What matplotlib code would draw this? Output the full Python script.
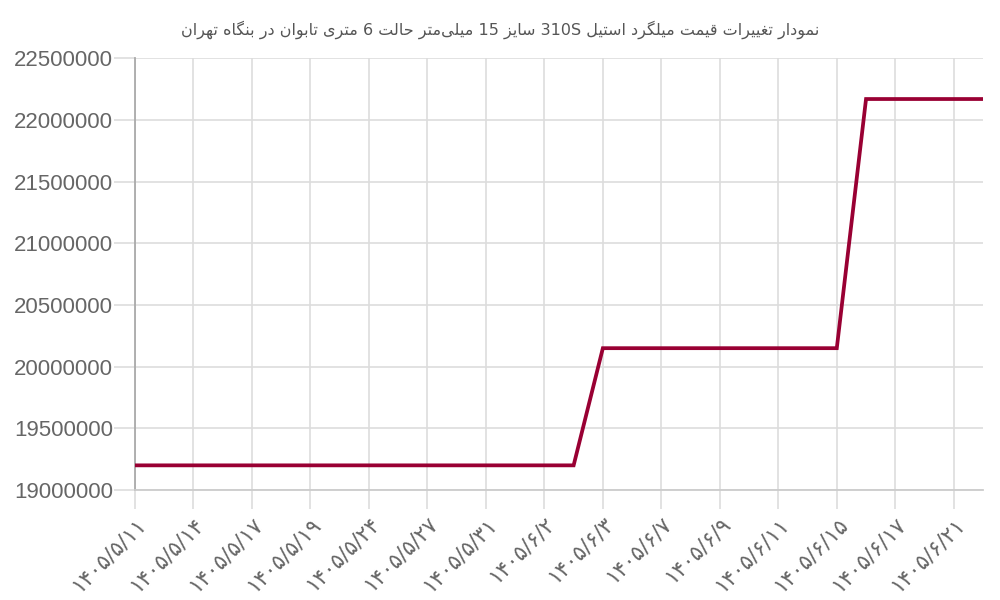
"""
price chart: 310S steel rebar, Tehran market
"""
import matplotlib
matplotlib.use("Agg")
import matplotlib.pyplot as plt

title_text = "نمودار تغییرات قیمت میلگرد استیل 310S سایز 15 میلی‌متر حالت 6 متری تابوان در بنگاه تهران"

prices = [19200000, 19200000, 19200000, 19200000, 19200000, 19200000,
          19200000, 19200000, 19200000, 19200000, 19200000, 19200000,
          19200000, 19200000, 19200000, 19200000,
          20150000, 20150000, 20150000, 20150000, 20150000, 20150000,
          20150000, 20150000, 20150000,
          22170000, 22170000, 22170000, 22170000, 22170000]

date_labels = ["۱۴۰۵/۵/۱۱", "۱۴۰۵/۵/۱۴", "۱۴۰۵/۵/۱۷", "۱۴۰۵/۵/۱۹", "۱۴۰۵/۵/۲۴",
               "۱۴۰۵/۵/۲۷", "۱۴۰۵/۵/۳۱", "۱۴۰۵/۶/۲", "۱۴۰۵/۶/۳", "۱۴۰۵/۶/۷",
               "۱۴۰۵/۶/۹", "۱۴۰۵/۶/۱۱", "۱۴۰۵/۶/۱۵", "۱۴۰۵/۶/۱۷", "۱۴۰۵/۶/۲۱"]

y_ticks = [19000000, 19500000, 20000000, 20500000, 21000000, 21500000, 22000000, 22500000]

# minimal persian shaping, matplotlib has no bidi / joining
# (isolated, final, initial, medial)
FORMS = {
    "ا": ("\uFE8D", "\uFE8E"),
    "ب": ("\uFE8F", "\uFE90", "\uFE91", "\uFE92"),
    "ت": ("\uFE95", "\uFE96", "\uFE97", "\uFE98"),
    "ح": ("\uFEA1", "\uFEA2", "\uFEA3", "\uFEA4"),
    "د": ("\uFEA9", "\uFEAA"),
    "ر": ("\uFEAD", "\uFEAE"),
    "ز": ("\uFEAF", "\uFEB0"),
    "س": ("\uFEB1", "\uFEB2", "\uFEB3", "\uFEB4"),
    "غ": ("\uFECD", "\uFECE", "\uFECF", "\uFED0"),
    "ق": ("\uFED5", "\uFED6", "\uFED7", "\uFED8"),
    "ل": ("\uFEDD", "\uFEDE", "\uFEDF", "\uFEE0"),
    "م": ("\uFEE1", "\uFEE2", "\uFEE3", "\uFEE4"),
    "ن": ("\uFEE5", "\uFEE6", "\uFEE7", "\uFEE8"),
    "ه": ("\uFEE9", "\uFEEA", "\uFEEB", "\uFEEC"),
    "و": ("\uFEED", "\uFEEE"),
    "گ": ("\uFB92", "\uFB93", "\uFB94", "\uFB95"),
    "ی": ("\uFBFC", "\uFBFD", "\uFBFE", "\uFBFF"),
}


def shape_word(word):
    out = []
    for i, ch in enumerate(word):
        if ch not in FORMS:
            if ch != "\u200c":
                out.append(ch)
            continue
        forms = FORMS[ch]
        prev = word[i - 1] if i > 0 else None
        nxt = word[i + 1] if i + 1 < len(word) else None
        join_prev = prev in FORMS and len(FORMS[prev]) == 4
        join_next = len(forms) == 4 and nxt in FORMS
        if join_prev and join_next:
            out.append(forms[3])
        elif join_prev:
            out.append(forms[1])
        elif join_next:
            out.append(forms[2])
        else:
            out.append(forms[0])
    return "".join(reversed(out))


def rtl(text):
    words = []
    for w in text.split(" "):
        if any(c in FORMS for c in w):
            words.append(shape_word(w))
        else:
            words.append(w)
    return " ".join(reversed(words))


plt.rcParams['font.family'] = ['Liberation Sans', 'DejaVu Sans']

fig = plt.figure(figsize=(10, 6), dpi=100)
ax = fig.add_axes([0.135, 0.1833, 0.848, 0.7195])

x = list(range(len(prices)))
ax.plot(x, prices, color='#990033', linewidth=2.7, solid_joinstyle='miter', zorder=3)

ax.set_xlim(0, len(prices) - 1)
ax.set_ylim(y_ticks[0], y_ticks[-1])

ax.set_yticks(y_ticks)
ax.set_yticklabels([str(v) for v in y_ticks], fontsize=16, color='#666666')
ax.set_xticks(x[::2])
ax.set_xticklabels(date_labels, rotation=45, ha='right', va='top', rotation_mode='anchor',
                   fontsize=15.5, color='#666666', family=['DejaVu Sans'])

ax.tick_params(axis='y', length=15, width=1.2, color='#dddddd', pad=1)
ax.tick_params(axis='x', length=14, width=1.2, color='#dddddd', pad=3)
ax.grid(True, color='#dddddd', linewidth=1.2)
ax.set_axisbelow(True)

for side in ['top', 'right']:
    ax.spines[side].set_visible(False)
ax.spines['left'].set_color('#aaaaaa')
ax.spines['left'].set_linewidth(1.3)
ax.spines['bottom'].set_color('#cccccc')
ax.spines['bottom'].set_linewidth(1.3)

fig.text(0.5, 0.95, rtl(title_text), ha='center', va='center', fontsize=11.5,
         color='#555555', family=['DejaVu Sans'])

plt.savefig("out.png")
